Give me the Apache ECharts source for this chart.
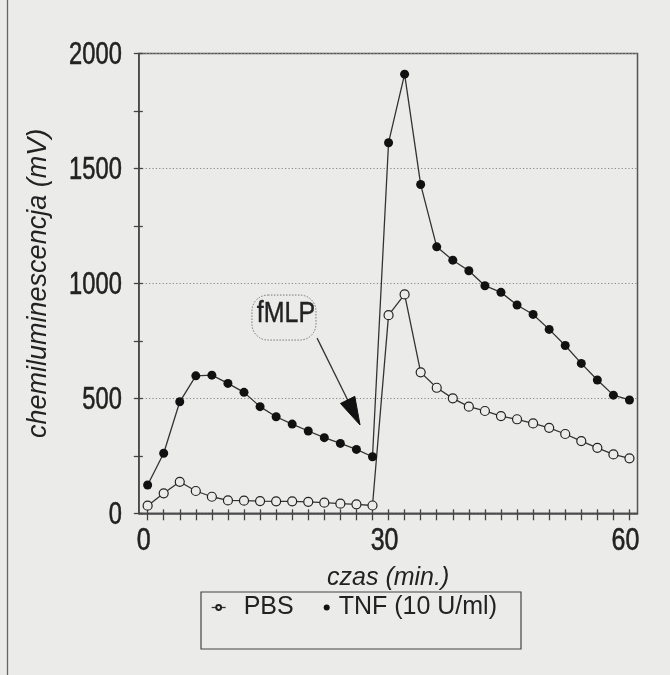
<!DOCTYPE html>
<html><head><meta charset="utf-8">
<script src="https://cdn.jsdelivr.net/npm/echarts@6/dist/echarts.min.js"></script>
<style>html,body{margin:0;padding:0;background:#ebebea}#c{width:670px;height:675px}</style>
</head><body><div id="c"></div>
<script>
// ---- data ----
const times = [0,2,4,6,8,10,12,14,16,18,20,22,24,26,28,30,32,34,36,38,40,42,44,46,48,50,52,54,56,58,60];
const pbsValues = [33,87,137,97,72,56,55,53,52,52,50,46,42,39,34,862,952,613,546,500,464,445,423,409,391,372,345,314,285,256,239];
const tnfValues = [123,261,485,598,601,565,526,464,420,388,358,329,304,278,246,1612,1910,1430,1159,1101,1055,990,961,906,865,800,730,652,580,514,493];
const xTickLabels = [0,30,60];
const yTickLabels = [0,500,1000,1500,2000];
const seriesNames = ['PBS','TNF (10 U/ml)'];
const xTitle = 'czas (min.)';
const yTitle = 'chemiluminescencja (mV)';
const annotationText = 'fMLP';

const FONT = "'Liberation Sans', Arial, sans-serif";
const BG = '#ebebea';
const INK = '#222';
const X_MIN = -1.1, X_MAX = 61;

const chart = echarts.init(document.getElementById('c'), null, {renderer:'canvas'});
const pair = (vals) => times.map((t,i)=>[t, vals[i]]);

chart.setOption({
  backgroundColor: BG,
  animation: false,
  grid: {left: 138.8, right: 670-637.5, top: 53.5, bottom: 675-513.3, show: true, borderColor: '#555', borderWidth: 1.5, backgroundColor: 'transparent'},
  xAxis: [{
    type: 'value', min: X_MIN, max: X_MAX,
    axisLine: {show: true, onZero: false, lineStyle: {color: '#444', width: 1.5}},
    axisTick: {show: true, customValues: times, inside: false, length: 7, lineStyle: {color: '#444', width: 1.3}},
    axisLabel: {show: false},
    splitLine: {show: false},
    name: xTitle, nameLocation: 'middle', nameGap: 52,
    nameTextStyle: {fontSize: 25, fontFamily: FONT, fontStyle: 'italic', color: INK}
  },{
    type: 'value', min: X_MIN, max: X_MAX, position: 'bottom',
    axisLine: {show: false, onZero: false},
    axisTick: {show: true, customValues: times, inside: true, length: 4, lineStyle: {color: '#444', width: 1.3}},
    axisLabel: {show: false}, splitLine: {show: false}
  }],
  yAxis: [{
    type: 'value', min: 0, max: 2000, interval: 500,
    axisLine: {show: true, onZero: false, lineStyle: {color: '#444', width: 1.5}},
    axisTick: {show: true, inside: false, length: 5, lineStyle: {color: '#444', width: 1.3}},
    minorTick: {show: true, splitNumber: 2, length: 5, lineStyle: {color: '#444', width: 1.3}},
    axisLabel: {show: false},
    splitLine: {show: true, lineStyle: {color: '#888', width: 1, type: [1.2, 2.2]}},
    name: yTitle, nameLocation: 'middle', nameGap: 87, nameRotate: 90,
    nameTextStyle: {fontSize: 27, fontFamily: FONT, fontStyle: 'italic', color: INK}
  },{
    type: 'value', min: 0, max: 2000, interval: 500, position: 'left',
    axisLine: {show: false, onZero: false},
    axisTick: {show: true, inside: true, length: 4, lineStyle: {color: '#444', width: 1.3}},
    minorTick: {show: true, splitNumber: 2, length: 4, lineStyle: {color: '#444', width: 1.3}},
    axisLabel: {show: false}, splitLine: {show: false}
  }],
  legend: {
    left: 201, top: 592, orient: 'horizontal', itemGap: 30, itemWidth: 14, itemHeight: 6,
    padding: [3, 24, 29, 10], borderColor: '#444', borderWidth: 1.2,
    textStyle: {fontSize: 25, fontFamily: FONT, color: INK},
    data: [
      {name: seriesNames[0], textStyle: {padding: [0,0,0,13]}, lineStyle: {width: 1.3, color: '#333'}},
      {name: seriesNames[1], icon: 'circle'}
    ]
  },
  series: [{
    name: seriesNames[0], type: 'line', data: pair(pbsValues),
    xAxisIndex: 0, yAxisIndex: 0,
    symbol: 'circle', symbolSize: 9,
    lineStyle: {color: '#333', width: 1.3},
    itemStyle: {color: BG, borderColor: '#222', borderWidth: 1.2},
    z: 3
  },{
    name: seriesNames[1], type: 'line', data: pair(tnfValues),
    xAxisIndex: 0, yAxisIndex: 0,
    symbol: 'circle', symbolSize: 9,
    lineStyle: {color: '#333', width: 1.3},
    itemStyle: {color: '#111', borderColor: '#111', borderWidth: 0},
    z: 4
  }]
});

// tick labels and annotation positioned through the axes' own scales
const toPx = (p) => chart.convertToPixel({xAxisIndex: 0, yAxisIndex: 0}, p);
const tickFont = {fontSize: 32, fontFamily: FONT, fill: INK, stroke: INK, lineWidth: 0.6};
const graphics = [];
yTickLabels.forEach(v => {
  const p = toPx([X_MIN, v]);
  graphics.push({type: 'text', x: p[0] - 17, y: p[1] + 2, scaleX: 0.74,
    style: Object.assign({text: String(v), align: 'right', verticalAlign: 'middle'}, tickFont), z: 10});
});
xTickLabels.forEach(v => {
  const p = toPx([v, 0]);
  graphics.push({type: 'text', x: p[0] - 4, y: p[1] + 28, scaleX: 0.78,
    style: Object.assign({text: String(v), align: 'center', verticalAlign: 'middle'}, tickFont), z: 10});
});

const labelC = toPx([17.1, 871]);
const a0 = toPx([21.1, 762]);
const a1 = toPx([26.45, 384]);
const dx = a1[0]-a0[0], dy = a1[1]-a0[1], L = Math.hypot(dx, dy);
const ux = dx/L, uy = dy/L, hl = 28, hw = 8;
const bx = a1[0]-ux*hl, by = a1[1]-uy*hl;

graphics.push(
  {type: 'line', shape: {x1: 7.5, y1: 0, x2: 7.5, y2: 675}, style: {stroke: '#666', lineWidth: 1.3}, silent: true},
  {type: 'rect', shape: {x: labelC[0]-33, y: labelC[1]-18, width: 64, height: 45, r: 16},
    style: {fill: 'none', stroke: '#777', lineWidth: 1, lineDash: [1.5, 1.5]}, z: 10},
  {type: 'text', x: labelC[0]+1, y: labelC[1]+1, scaleX: 0.86,
    style: {text: annotationText, fontSize: 29, fontFamily: FONT, fill: INK, stroke: INK, lineWidth: 0.4, align: 'center', verticalAlign: 'middle'}, z: 10},
  {type: 'line', shape: {x1: a0[0], y1: a0[1], x2: bx+ux*4, y2: by+uy*4}, style: {stroke: '#333', lineWidth: 1.3}, z: 10},
  {type: 'polygon', shape: {points: [[a1[0], a1[1]], [bx - uy*hw, by + ux*hw], [bx + uy*hw, by - ux*hw]]},
    style: {fill: '#111', stroke: '#111'}, z: 10}
);
chart.setOption({graphic: graphics});
</script></body></html>
